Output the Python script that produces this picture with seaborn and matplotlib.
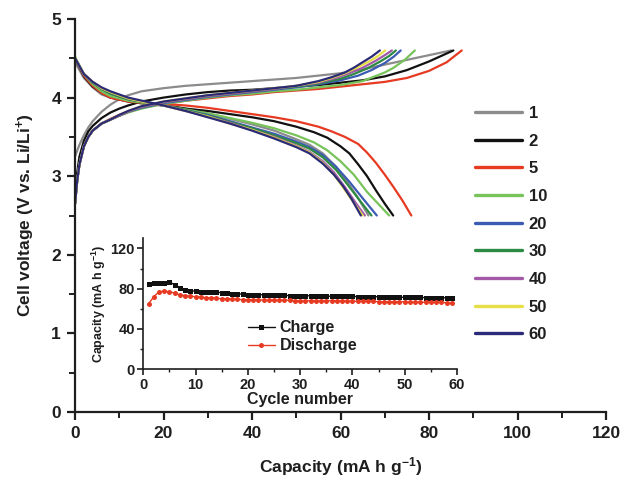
import numpy as np
import pandas as pd
import matplotlib
matplotlib.use("Agg")
import matplotlib.pyplot as plt
import seaborn as sns
from matplotlib.lines import Line2D
from matplotlib.ticker import MultipleLocator

# ---------------- data ----------------
CYCLES = ["1", "2", "5", "10", "20", "30", "40", "50", "60"]
COLORS = ["#8c8c8c", "#111111", "#e63a22", "#78c35a", "#3c5cb4", "#2d8a42", "#a25aa8", "#e6df45", "#2b2a78"]

# charge curves (capacity, voltage)
CH1_CAP = [0, 1, 2, 3, 4, 6, 8, 10, 12, 15, 20, 25, 30, 35, 40, 45, 50, 55, 60, 65, 70, 75, 80, 85]
CH1_V = [3.25, 3.4, 3.52, 3.62, 3.7, 3.82, 3.91, 3.98, 4.03, 4.08, 4.12, 4.15, 4.17, 4.19, 4.21, 4.23, 4.25, 4.28, 4.31, 4.36, 4.42, 4.48, 4.54, 4.6]
CH2_CAP = [0, 0.5, 1, 2, 3, 4, 6, 8, 10, 12, 15, 20, 25, 30, 35, 40, 45, 50, 55, 60, 65, 70, 75, 80, 85.5]
CH2_V = [2.75, 3.05, 3.25, 3.45, 3.57, 3.64, 3.74, 3.81, 3.86, 3.9, 3.95, 4.0, 4.04, 4.07, 4.09, 4.1, 4.12, 4.14, 4.16, 4.19, 4.22, 4.27, 4.35, 4.46, 4.6]
CH5_CAP = [0, 0.5, 1, 2, 3, 4, 6, 8, 10, 12, 15, 20, 25, 30, 35, 40, 45, 50, 55, 60, 65, 70, 75, 80, 84, 87.4]
CH5_V = [2.65, 2.95, 3.15, 3.38, 3.5, 3.58, 3.67, 3.73, 3.78, 3.82, 3.87, 3.92, 3.96, 3.99, 4.02, 4.04, 4.07, 4.09, 4.11, 4.14, 4.17, 4.2, 4.25, 4.34, 4.45, 4.6]
CH10_CAP = [0, 0.5, 1, 2, 3, 4, 6, 8, 10, 12, 15, 20, 25, 30, 35, 40, 45, 50, 55, 60, 65, 70, 72, 74.5, 76.8]
CH10_V = [2.65, 2.95, 3.15, 3.38, 3.5, 3.58, 3.67, 3.72, 3.77, 3.81, 3.86, 3.92, 3.96, 4.0, 4.03, 4.05, 4.08, 4.1, 4.13, 4.16, 4.21, 4.32, 4.38, 4.48, 4.6]
CH20_CAP = [0, 0.5, 1, 2, 3, 4, 6, 8, 10, 12, 15, 20, 25, 30, 35, 40, 45, 50, 55, 60, 64, 67, 70, 72, 73.6]
CH20_V = [2.65, 2.95, 3.15, 3.38, 3.5, 3.58, 3.67, 3.72, 3.77, 3.82, 3.87, 3.93, 3.97, 4.01, 4.04, 4.07, 4.1, 4.13, 4.17, 4.22, 4.28, 4.35, 4.44, 4.52, 4.6]
CH30_CAP = [0, 0.5, 1, 2, 3, 4, 6, 8, 10, 12, 15, 20, 25, 30, 35, 40, 45, 50, 55, 60, 63, 66, 69, 71, 72.5]
CH30_V = [2.65, 2.95, 3.15, 3.38, 3.5, 3.58, 3.67, 3.72, 3.77, 3.82, 3.88, 3.94, 3.98, 4.02, 4.05, 4.08, 4.11, 4.14, 4.18, 4.24, 4.3, 4.37, 4.46, 4.53, 4.6]
CH40_CAP = [0, 0.5, 1, 2, 3, 4, 6, 8, 10, 12, 15, 20, 25, 30, 35, 40, 45, 50, 55, 59, 62, 65, 68, 70, 71.6]
CH40_V = [2.65, 2.95, 3.15, 3.38, 3.5, 3.58, 3.67, 3.72, 3.77, 3.82, 3.88, 3.94, 3.98, 4.02, 4.05, 4.08, 4.11, 4.15, 4.19, 4.25, 4.31, 4.38, 4.47, 4.54, 4.6]
CH50_CAP = [0, 0.5, 1, 2, 3, 4, 6, 8, 10, 12, 15, 20, 25, 30, 35, 40, 45, 50, 55, 58, 61, 64, 66.5, 68.5, 70.1]
CH50_V = [2.65, 2.95, 3.15, 3.38, 3.5, 3.58, 3.67, 3.72, 3.78, 3.83, 3.89, 3.95, 3.99, 4.03, 4.06, 4.09, 4.12, 4.15, 4.2, 4.25, 4.31, 4.39, 4.46, 4.53, 4.6]
CH60_CAP = [0, 0.5, 1, 2, 3, 4, 6, 8, 10, 12, 15, 20, 25, 30, 35, 40, 45, 50, 55, 58, 61, 63, 65, 67, 68.9]
CH60_V = [2.65, 2.95, 3.15, 3.38, 3.5, 3.58, 3.67, 3.72, 3.78, 3.83, 3.89, 3.95, 3.99, 4.03, 4.06, 4.09, 4.12, 4.15, 4.21, 4.26, 4.32, 4.38, 4.45, 4.52, 4.6]

# discharge curves (capacity, voltage)
DC1_CAP = [0, 2, 4, 6, 8, 12, 16, 20, 25, 30, 35, 40, 45, 50, 53, 56, 59, 61.5, 64, 66.3]
DC1_V = [4.45, 4.25, 4.13, 4.04, 4.0, 3.97, 3.94, 3.91, 3.86, 3.8, 3.73, 3.66, 3.58, 3.47, 3.4, 3.29, 3.12, 2.93, 2.72, 2.5]
DC2_CAP = [0, 2, 4, 6, 8, 12, 16, 20, 25, 30, 35, 40, 45, 50, 54, 57, 60, 62, 64, 66, 68, 70, 71.9]
DC2_V = [4.5, 4.27, 4.14, 4.06, 4.0, 3.95, 3.92, 3.9, 3.86, 3.83, 3.79, 3.75, 3.7, 3.63, 3.56, 3.49, 3.38, 3.29, 3.15, 3.0, 2.82, 2.65, 2.5]
DC5_CAP = [0, 2, 4, 6, 8, 12, 16, 20, 25, 30, 35, 40, 45, 50, 55, 58, 61, 64, 66, 68, 70, 72, 74, 76]
DC5_V = [4.5, 4.28, 4.15, 4.06, 4.0, 3.95, 3.93, 3.92, 3.9, 3.87, 3.83, 3.79, 3.75, 3.7, 3.63, 3.57, 3.5, 3.41, 3.3, 3.17, 3.02, 2.86, 2.69, 2.5]
DC10_CAP = [0, 2, 4, 6, 8, 12, 16, 20, 25, 30, 35, 40, 45, 50, 54, 57, 60, 63, 66, 68.5, 71]
DC10_V = [4.52, 4.3, 4.17, 4.08, 4.02, 3.96, 3.93, 3.9, 3.85, 3.8, 3.74, 3.68, 3.61, 3.52, 3.43, 3.33, 3.19, 3.02, 2.8, 2.65, 2.5]
DC20_CAP = [0, 2, 4, 6, 8, 12, 16, 20, 25, 30, 35, 40, 45, 50, 53, 56, 59, 62, 65, 68.2]
DC20_V = [4.5, 4.3, 4.19, 4.11, 4.05, 3.98, 3.94, 3.9, 3.84, 3.78, 3.7, 3.62, 3.54, 3.44, 3.37, 3.27, 3.12, 2.93, 2.72, 2.5]
DC30_CAP = [0, 2, 4, 6, 8, 12, 16, 20, 25, 30, 35, 40, 45, 50, 53, 56, 59, 61.5, 64.5, 67]
DC30_V = [4.5, 4.3, 4.19, 4.11, 4.05, 3.98, 3.94, 3.9, 3.84, 3.77, 3.69, 3.61, 3.52, 3.42, 3.35, 3.24, 3.08, 2.9, 2.68, 2.5]
DC40_CAP = [0, 2, 4, 6, 8, 12, 16, 20, 25, 30, 35, 40, 45, 50, 53, 56, 58.5, 61, 63.2, 65.5]
DC40_V = [4.5, 4.3, 4.2, 4.12, 4.07, 3.99, 3.94, 3.9, 3.83, 3.76, 3.68, 3.59, 3.5, 3.39, 3.31, 3.19, 3.05, 2.86, 2.68, 2.5]
DC50_CAP = [0, 2, 4, 6, 8, 12, 16, 20, 25, 30, 35, 40, 45, 50, 53, 56, 58.5, 60.8, 63, 65]
DC50_V = [4.5, 4.3, 4.2, 4.12, 4.07, 3.99, 3.94, 3.9, 3.83, 3.76, 3.67, 3.59, 3.49, 3.38, 3.3, 3.17, 3.02, 2.84, 2.66, 2.5]
DC60_CAP = [0, 2, 4, 6, 8, 12, 16, 20, 25, 30, 35, 40, 45, 50, 53, 56, 58.5, 60.5, 62.5, 64.6]
DC60_V = [4.5, 4.3, 4.2, 4.13, 4.08, 4.0, 3.95, 3.9, 3.83, 3.75, 3.67, 3.58, 3.48, 3.37, 3.29, 3.16, 3.02, 2.88, 2.71, 2.5]

# inset: capacity vs cycle number
INSET_CYCLE = list(range(1, 60))
INSET_CHARGE = [84.5, 86, 86, 86, 86.5, 84, 81, 79, 78, 77.5,
                77, 77, 77, 76.5, 76, 75.5, 75, 75, 74.5, 74,
                74, 74, 74, 73.5, 73.5, 73.5, 73.5, 73, 73, 73,
                73, 73, 73, 72.5, 72.5, 72.5, 72.5, 72.5, 72.5, 72.5,
                72, 72, 72, 72, 72, 72, 72, 71.5, 71.5, 71.5,
                71.5, 71.5, 71.5, 71, 71, 71, 71, 71, 71]
INSET_DISCHARGE = [65, 72, 77, 77.5, 77, 75.5, 74, 73, 72.5, 72,
                   71.5, 71, 71, 70.5, 70, 70, 69.5, 69.5, 69, 69,
                   69, 69, 68.5, 68.5, 68.5, 68.5, 68.5, 68.5, 68, 68,
                   68, 68, 68, 68, 68, 68, 68, 68, 67.5, 67.5,
                   67.5, 67.5, 67.5, 67.5, 67, 67, 67, 67, 67, 67,
                   66.5, 66.5, 66.5, 66.5, 66.5, 66.5, 66.5, 66, 66]

CHARGE = [(CH1_CAP, CH1_V), (CH2_CAP, CH2_V), (CH5_CAP, CH5_V), (CH10_CAP, CH10_V), (CH20_CAP, CH20_V),
          (CH30_CAP, CH30_V), (CH40_CAP, CH40_V), (CH50_CAP, CH50_V), (CH60_CAP, CH60_V)]
DISCHARGE = [(DC1_CAP, DC1_V), (DC2_CAP, DC2_V), (DC5_CAP, DC5_V), (DC10_CAP, DC10_V), (DC20_CAP, DC20_V),
             (DC30_CAP, DC30_V), (DC40_CAP, DC40_V), (DC50_CAP, DC50_V), (DC60_CAP, DC60_V)]

rows = []
for lab, (cc, cv), (dc, dv) in zip(CYCLES, CHARGE, DISCHARGE):
    for c, v in zip(cc, cv):
        rows.append((lab, lab + "c", c, v))
    for c, v in zip(dc, dv):
        rows.append((lab, lab + "d", c, v))
df = pd.DataFrame(rows, columns=["cycle", "branch", "cap", "V"])

# ---------------- style ----------------
sns.set_style("ticks")
plt.rcParams["font.family"] = ["Liberation Sans", "DejaVu Sans"]
plt.rcParams["font.weight"] = "bold"
plt.rcParams["mathtext.fontset"] = "custom"
plt.rcParams["mathtext.rm"] = "Liberation Sans:bold"
plt.rcParams["mathtext.bf"] = "Liberation Sans:bold"
plt.rcParams["mathtext.default"] = "bf"
TXT = "#1e1e1e"

fig = plt.figure(figsize=(6.22, 4.79), dpi=100)
ax = fig.add_axes([0.1206, 0.1399, 0.8537, 0.8204])

pal = dict(zip(CYCLES, COLORS))
sns.lineplot(data=df, x="cap", y="V", hue="cycle", units="branch", estimator=None, sort=False,
             hue_order=CYCLES, palette=pal, linewidth=1.6, legend=False, ax=ax)

ax.set_xlim(0, 120)
ax.set_ylim(0, 5)
ax.xaxis.set_major_locator(MultipleLocator(20))
ax.xaxis.set_minor_locator(MultipleLocator(10))
ax.yaxis.set_major_locator(MultipleLocator(1))
ax.yaxis.set_minor_locator(MultipleLocator(0.5))
for s in ["top", "right"]:
    ax.spines[s].set_visible(False)
for s in ["left", "bottom"]:
    ax.spines[s].set_linewidth(1.6)
    ax.spines[s].set_color(TXT)
ax.tick_params(which="major", length=6, width=1.6, labelsize=12.5, color=TXT, labelcolor=TXT, pad=4)
ax.tick_params(which="minor", length=4, width=1.4, color=TXT)
ax.set_xlabel("Capacity (mA h g$^{-1}$)", fontsize=12.5, fontweight="bold", color=TXT, labelpad=10)
ax.set_ylabel("Cell voltage (V vs. Li/Li$^{+}$)", fontsize=12.5, fontweight="bold", color=TXT, labelpad=10)

handles = [Line2D([], [], color=c, lw=2.4) for c in COLORS]
ax.legend(handles, CYCLES, loc="upper left", bbox_to_anchor=(0.763, 0.779), bbox_transform=fig.transFigure,
          frameon=False, handlelength=2.85, handletextpad=0.4, labelspacing=0.76,
          borderpad=0, borderaxespad=0, prop={"weight": "bold", "size": 12})
for t in ax.get_legend().get_texts():
    t.set_color(TXT)

# ---------------- inset ----------------
axin = fig.add_axes([0.2304, 0.229, 0.5043, 0.2735])
axin.set_facecolor("none")
sns.lineplot(x=INSET_CYCLE, y=INSET_CHARGE, color="#111111", marker="s", markersize=3.6,
             markeredgewidth=0, linewidth=1.0, ax=axin, label="Charge")
sns.lineplot(x=INSET_CYCLE, y=INSET_DISCHARGE, color="#e63a22", marker="o", markersize=3.6,
             markeredgewidth=0, linewidth=1.0, ax=axin, label="Discharge")
axin.set_xlim(0, 60)
axin.set_ylim(0, 130)
axin.xaxis.set_major_locator(MultipleLocator(10))
axin.xaxis.set_minor_locator(MultipleLocator(5))
axin.yaxis.set_major_locator(MultipleLocator(40))
axin.yaxis.set_minor_locator(MultipleLocator(20))
for s in ["top", "right"]:
    axin.spines[s].set_visible(False)
for s in ["left", "bottom"]:
    axin.spines[s].set_linewidth(1.2)
    axin.spines[s].set_color(TXT)
axin.tick_params(which="major", length=4, width=1.2, labelsize=10.5, color=TXT, labelcolor=TXT, pad=2)
axin.tick_params(which="minor", length=2.5, width=1.0, color=TXT)
axin.set_xlabel("Cycle number", fontsize=11.5, fontweight="bold", color=TXT, labelpad=0)
axin.set_ylabel("Capacity (mA h g$^{-1}$)", fontsize=9, fontweight="bold", color=TXT, labelpad=2)
leg = axin.legend(loc="upper left", bbox_to_anchor=(0.333, 0.375), frameon=False,
                  handlelength=1.7, handletextpad=0.3, labelspacing=0.2, borderpad=0, borderaxespad=0,
                  prop={"weight": "bold", "size": 11.5})
for t in leg.get_texts():
    t.set_color(TXT)

fig.savefig("out.png", dpi=100)
